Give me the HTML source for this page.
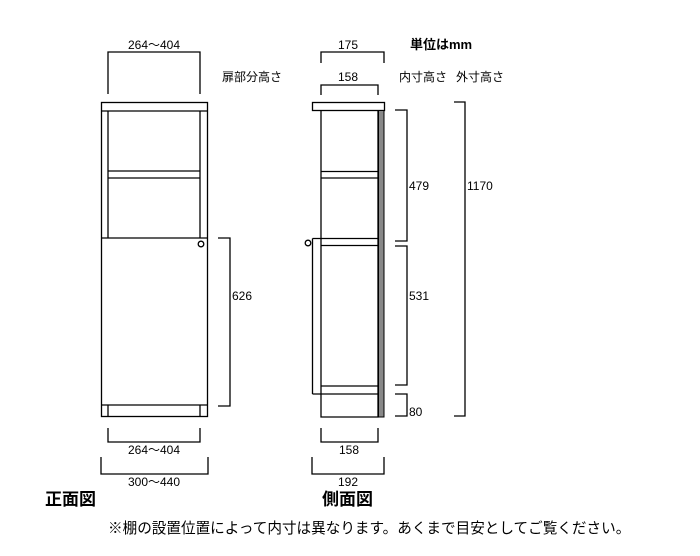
<!DOCTYPE html>
<html><head><meta charset="utf-8"><style>
html,body{margin:0;padding:0;background:#fff;}
svg{display:block;}
text{font-family:"Liberation Sans","Noto Sans CJK JP",sans-serif;fill:#000;}
</style></head><body>
<svg width="700" height="556" viewBox="0 0 700 556" xmlns="http://www.w3.org/2000/svg">
<g fill="none" stroke="#000" stroke-width="1.3">
<rect x="101.5" y="102.5" width="106" height="314"/>
<line x1="101.5" y1="111" x2="207.5" y2="111"/>
<line x1="108" y1="111" x2="108" y2="238"/>
<line x1="200" y1="111" x2="200" y2="238"/>
<line x1="108" y1="171" x2="200" y2="171"/>
<line x1="108" y1="178" x2="200" y2="178"/>
<line x1="101.5" y1="238" x2="207.5" y2="238"/>
<line x1="101.5" y1="405" x2="207.5" y2="405"/>
<line x1="108" y1="405" x2="108" y2="417"/>
<line x1="200" y1="405" x2="200" y2="417"/>
<circle cx="201" cy="244" r="2.8"/>
<polyline points="108,94 108,52 200,52 200,94"/>
<polyline points="218,238 230,238 230,406 218,406"/>
<polyline points="108,428 108,442 200,442 200,428"/>
<polyline points="101,457 101,474 208,474 208,457"/>
<rect x="312.5" y="102.5" width="72" height="8"/>
<polyline points="321,110.5 321,417 378,417 378,110.5"/>
<line x1="321" y1="171.5" x2="378" y2="171.5"/>
<line x1="321" y1="178" x2="378" y2="178"/>
<line x1="312.5" y1="238.5" x2="378" y2="238.5"/>
<line x1="321" y1="245.5" x2="378" y2="245.5"/>
<line x1="312.5" y1="238.5" x2="312.5" y2="394"/>
<line x1="312.5" y1="394" x2="378" y2="394"/>
<line x1="321" y1="386" x2="378" y2="386"/>
<circle cx="308" cy="243" r="2.8"/>
<polyline points="321,63 321,52 384,52 384,63"/>
<polyline points="321,95 321,85 378,85 378,95"/>
<polyline points="395,110 407,110 407,241 395,241"/>
<polyline points="395,246 407,246 407,385 395,385"/>
<polyline points="395,394 407,394 407,416 395,416"/>
<polyline points="454,102 465,102 465,416 454,416"/>
<polyline points="321,428 321,442 378,442 378,428"/>
<polyline points="312,457 312,474 384,474 384,457"/>
</g>
<rect x="378.5" y="110.5" width="5.5" height="306.5" fill="#888" stroke="#000" stroke-width="1"/>
<g font-size="12">
<text x="154" y="49" text-anchor="middle">264～404</text>
<text x="222" y="81">扉部分高さ</text>
<text x="232" y="300">626</text>
<text x="154" y="454" text-anchor="middle">264～404</text>
<text x="154" y="486" text-anchor="middle">300～440</text>
<text x="348" y="49" text-anchor="middle">175</text>
<text x="348" y="81" text-anchor="middle">158</text>
<text x="399" y="81">内寸高さ</text>
<text x="456" y="81">外寸高さ</text>
<text x="409" y="190">479</text>
<text x="409" y="300">531</text>
<text x="409" y="416">80</text>
<text x="467" y="190">1170</text>
<text x="349" y="454" text-anchor="middle">158</text>
<text x="348" y="486" text-anchor="middle">192</text>
</g>
<text x="410" y="49" font-size="13" font-weight="bold">単位はmm</text>
<text x="45" y="505" font-size="17" font-weight="bold">正面図</text>
<text x="322" y="505" font-size="17" font-weight="bold">側面図</text>
<text x="108" y="533" font-size="14.6">※棚の設置位置によって内寸は異なります。あくまで目安としてご覧ください。</text>
</svg>
</body></html>
